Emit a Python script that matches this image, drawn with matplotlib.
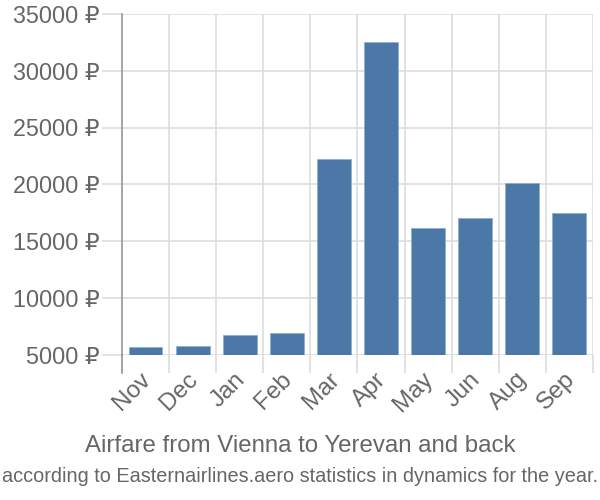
import numpy as np
import matplotlib.pyplot as plt
from matplotlib.transforms import ScaledTranslation

months = ["Nov", "Dec", "Jan", "Feb", "Mar", "Apr", "May", "Jun", "Aug", "Sep"]
prices = [5690, 5720, 6750, 6870, 22220, 32490, 16140, 17070, 20130, 17460]
yticks = [5000, 10000, 15000, 20000, 25000, 30000, 35000]

title = "Airfare from Vienna to Yerevan and back"
subtitle = "according to Easternairlines.aero statistics in dynamics for the year."

plt.rcParams['font.family'] = ['Liberation Sans', 'DejaVu Sans']
grey = '#666666'

fig = plt.figure(figsize=(6, 5), dpi=100)
ax = fig.add_axes([0.2033, 0.291, 0.785, 0.681])

x = np.arange(len(months))
ax.bar(x, prices, width=0.72, color='#4c78a8', edgecolor='#8fb0d0',
       linewidth=0.6, zorder=3)

ax.set_xlim(-0.5, len(months) - 0.5)
ax.set_ylim(5000, 35000)

# y axis: labels with rouble sign, light ticks running into the grid
ax.set_yticks(yticks)
ax.set_yticklabels([f"{v} ₽" for v in yticks], fontsize=16.8, color=grey)
ax.tick_params(axis='y', length=14.4, color='#dddddd', width=1.2, pad=1.5)

# x axis: labels at bar centres, ticks + grid at category boundaries
ax.set_xticks(x)
ax.set_xticklabels(months, fontsize=17.5, color=grey, rotation=45,
                   ha='right', va='top', rotation_mode='anchor')
ax.tick_params(axis='x', which='major', length=0, pad=10)
ax.set_xticks(np.arange(len(months) + 1) - 0.5, minor=True)
ax.tick_params(axis='x', which='minor', length=13, color='#dddddd', width=1.2)
shift = ScaledTranslation(-0.06, 0, fig.dpi_scale_trans)
for lab in ax.get_xticklabels():
    lab.set_transform(lab.get_transform() + shift)

ax.grid(axis='y', color='#dddddd', linewidth=1.2, zorder=0)
ax.grid(axis='x', which='minor', color='#dddddd', linewidth=1.2, zorder=0)

for s in ['top', 'right', 'bottom']:
    ax.spines[s].set_visible(False)
ax.spines['left'].set_color('#999999')
ax.spines['left'].set_linewidth(1.2)
ax.axvline(-0.5, ymin=-0.053, ymax=0, color='#999999', linewidth=1.2, clip_on=False)

fig.text(0.5, 0.108, title, ha='center', va='center', fontsize=17.3, color=grey)
fig.text(0.5, 0.048, subtitle, ha='center', va='center', fontsize=14.3, color=grey,
         family=['Liberation Sans Narrow', 'Liberation Sans', 'DejaVu Sans'])

fig.savefig('out.png', dpi=100)
